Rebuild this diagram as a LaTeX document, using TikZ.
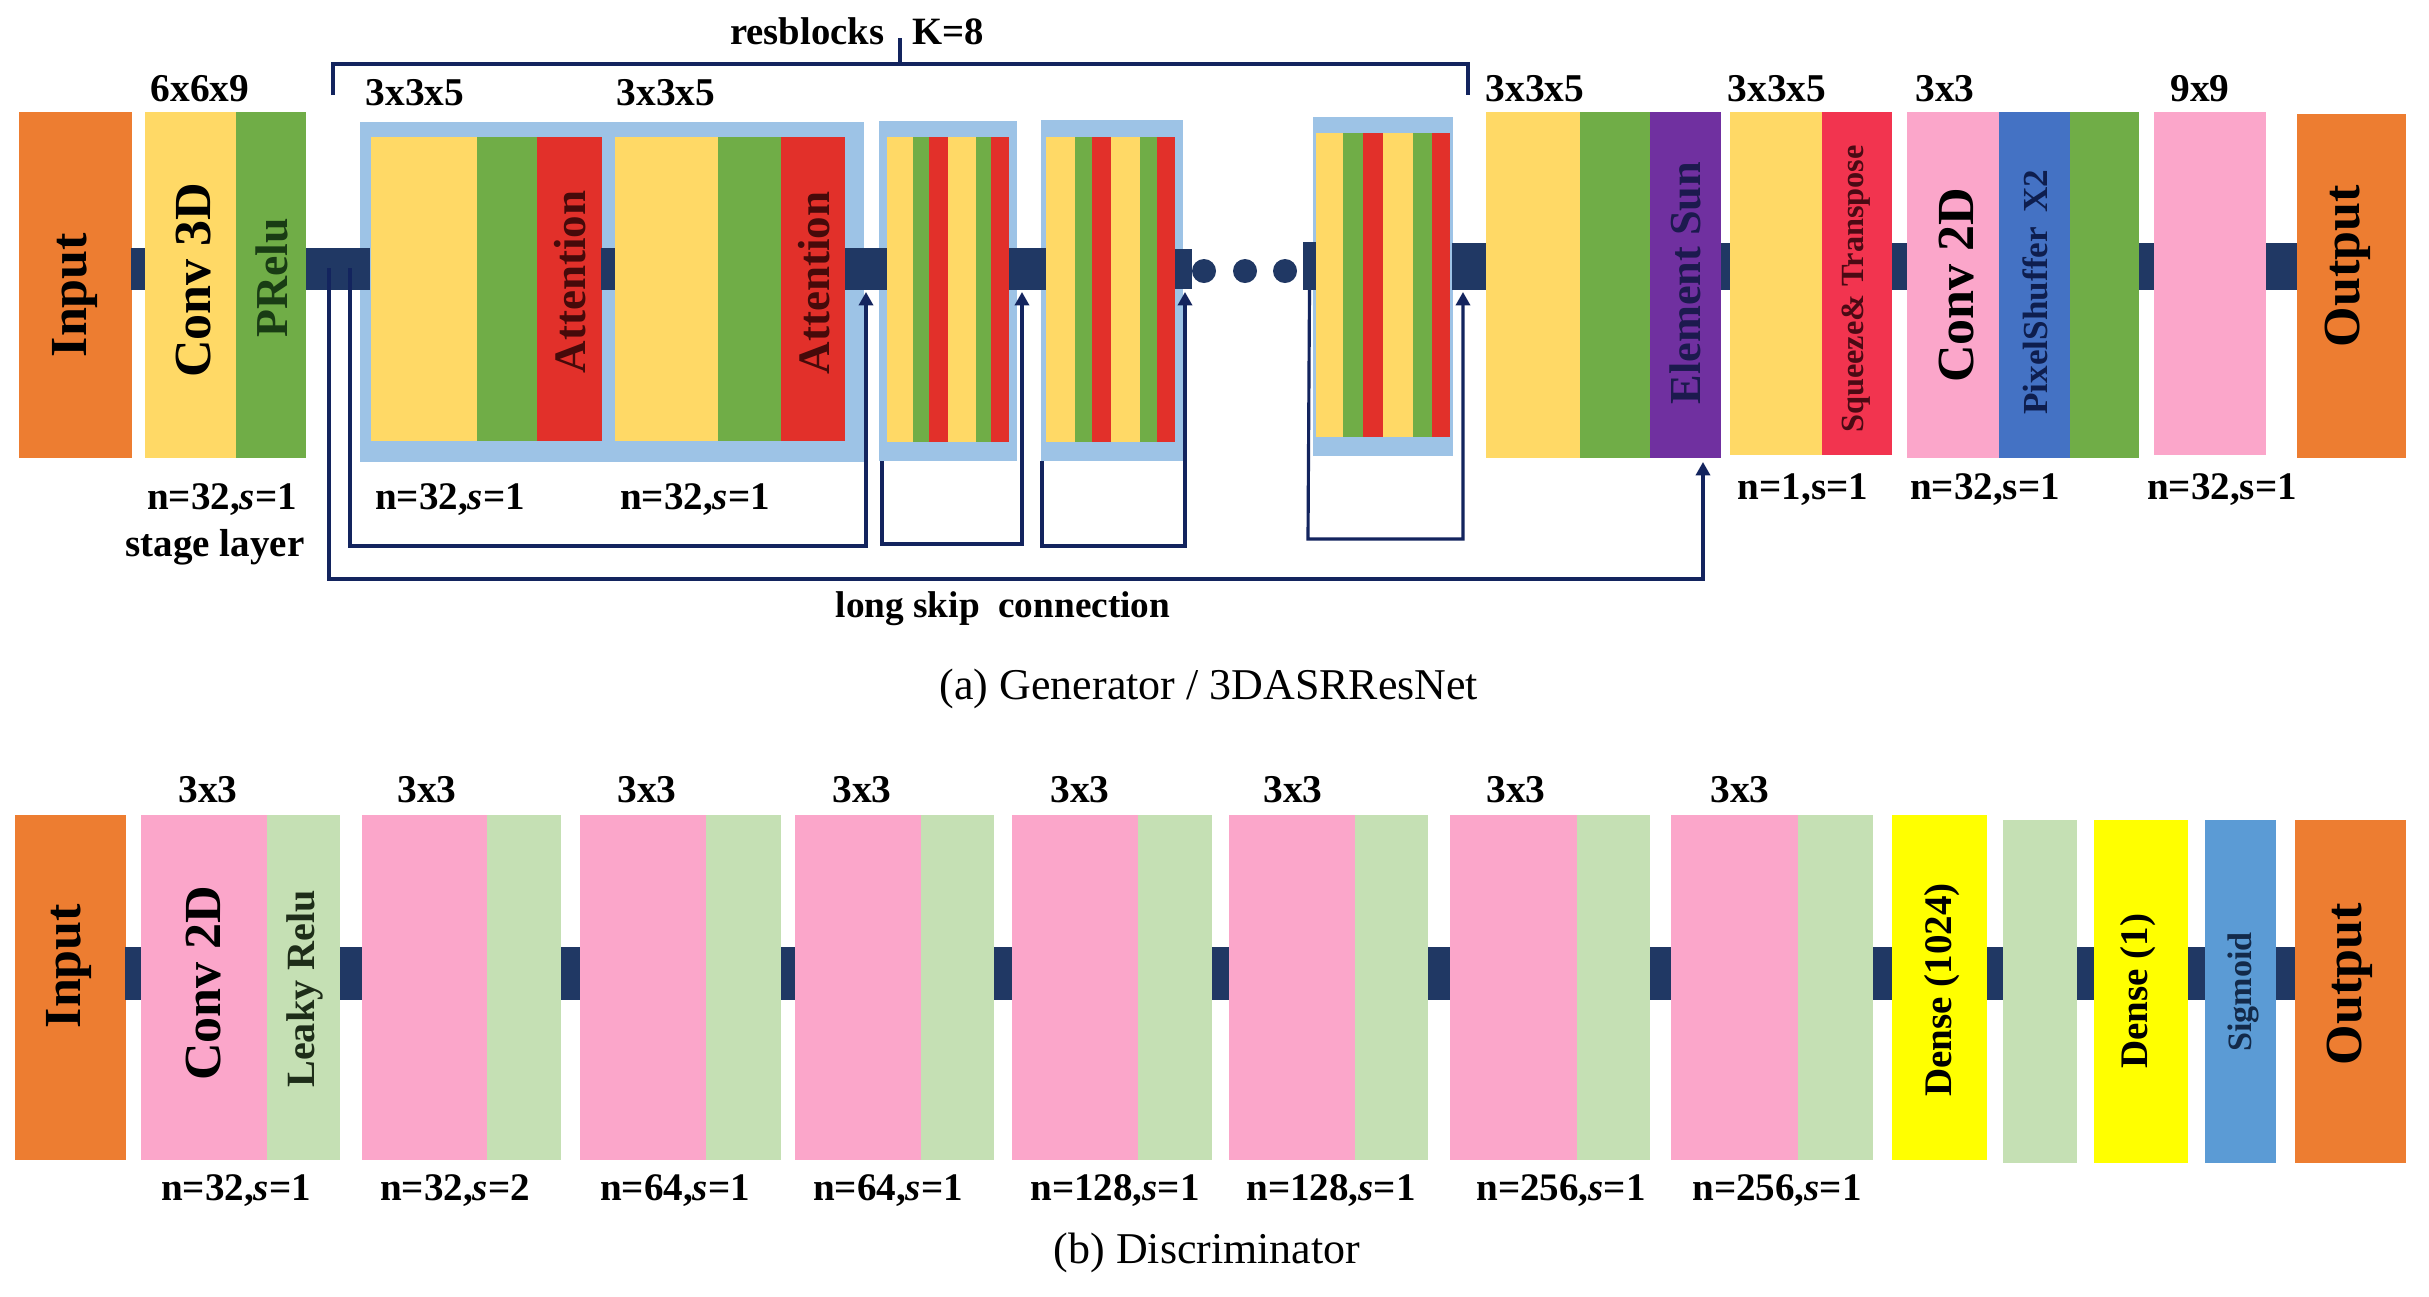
\documentclass[tikz,border=0pt]{standalone}
\usepackage{fontspec}
\setmainfont{Liberation Serif}
\usetikzlibrary{arrows.meta}
\definecolor{corange}{HTML}{ED7D31}
\definecolor{cgold}{HTML}{FFD966}
\definecolor{cgreen}{HTML}{70AD47}
\definecolor{cred}{HTML}{E2302A}
\definecolor{clblue}{HTML}{9DC3E6}
\definecolor{cpurple}{HTML}{7030A0}
\definecolor{csqred}{HTML}{F2344F}
\definecolor{cpink}{HTML}{FBA6CA}
\definecolor{cpxblue}{HTML}{4472C4}
\definecolor{clgreen}{HTML}{C5E0B4}
\definecolor{cbyellow}{HTML}{FFFF00}
\definecolor{csigblue}{HTML}{5B9BD5}
\definecolor{cnavy}{HTML}{203864}
\definecolor{clinenavy}{HTML}{13245E}
\newcommand\fs[1]{\fontsize{#1}{#1}\selectfont\bfseries}
\newcommand\blk[6]{\node[blk,fill=#2,minimum width={(#5-#3)*0.01cm},minimum height={(#6-#4)*0.01cm}] (#1) at ({(#3+#5)/2},{(#4+#6)/2}) {};}
\begin{document}
\begin{tikzpicture}[x=0.01cm,y=-0.01cm,
  blk/.style={inner sep=0pt,outer sep=0pt,draw=none,rectangle},
  vlab/.style={rotate=90,inner sep=0pt},
  kl/.style={font=\fs{11.2},anchor=base,inner sep=0pt},
  nl/.style={font=\fs{11.1},anchor=base,inner sep=0pt},
  skipline/.style={draw=clinenavy,line width=0.9pt},
  skiparrow/.style={skipline,-{Triangle[length=3.8pt,width=4pt]}}]
\useasboundingbox (0,0) rectangle (2429,1296);
\fill[white] (0,0) rectangle (2429,1296);

% ================= GENERATOR =================
\blk{inT}{corange}{19}{112}{132}{458}
\blk{b01}{cnavy}{131}{248}{146}{290}
\blk{conv3}{cgold}{145}{112}{236}{458}
\blk{prelu}{cgreen}{236}{112}{306}{458}
% resblock outer backgrounds
\blk{rb1}{clblue}{360}{122}{864}{462}
\blk{rb2}{clblue}{879}{121}{1017}{461}
\blk{rb3}{clblue}{1041}{120}{1183}{461}
\blk{rb4}{clblue}{1313}{117}{1453}{456}
\blk{b02}{cnavy}{306}{248}{370}{290}
% resblock 1
\blk{y11}{cgold}{371}{137}{477}{441}
\blk{g11}{cgreen}{477}{137}{537}{441}
\blk{r11}{cred}{537}{137}{602}{441}
\blk{b03}{cnavy}{601}{248}{616}{290}
\blk{y12}{cgold}{615}{137}{718}{441}
\blk{g12}{cgreen}{718}{137}{781}{441}
\blk{r12}{cred}{781}{137}{845}{441}
\blk{b04}{cnavy}{845}{248}{887}{290}
% resblock 2
\blk{y21}{cgold}{887}{137}{913}{442}
\blk{g21}{cgreen}{913}{137}{929}{442}
\blk{r21}{cred}{929}{137}{948}{442}
\blk{y22}{cgold}{948}{137}{976}{442}
\blk{g22}{cgreen}{976}{137}{991}{442}
\blk{r22}{cred}{991}{137}{1009}{442}
\blk{b05}{cnavy}{1009}{248}{1046}{290}
% resblock 3
\blk{y31}{cgold}{1046}{137}{1075}{442}
\blk{g31}{cgreen}{1075}{137}{1092}{442}
\blk{r31}{cred}{1092}{137}{1111}{442}
\blk{y32}{cgold}{1111}{137}{1140}{442}
\blk{g32}{cgreen}{1140}{137}{1157}{442}
\blk{r32}{cred}{1157}{137}{1175}{442}
\blk{b06}{cnavy}{1175}{249}{1192}{289}
\node[circle,fill=cnavy,minimum size=24*0.01cm,inner sep=0pt] (d1) at (1204,271) {};
\node[circle,fill=cnavy,minimum size=24*0.01cm,inner sep=0pt] (d2) at (1245,271) {};
\node[circle,fill=cnavy,minimum size=24*0.01cm,inner sep=0pt] (d3) at (1285,271) {};
\blk{b07}{cnavy}{1303}{242}{1316}{290}
% resblock 4
\blk{y41}{cgold}{1316}{133}{1343}{437}
\blk{g41}{cgreen}{1343}{133}{1363}{437}
\blk{r41}{cred}{1363}{133}{1383}{437}
\blk{y42}{cgold}{1383}{133}{1413}{437}
\blk{g42}{cgreen}{1413}{133}{1432}{437}
\blk{r42}{cred}{1432}{133}{1450}{437}
\blk{b08}{cnavy}{1452}{243}{1487}{290}
% tail
\blk{y5}{cgold}{1486}{112}{1580}{458}
\blk{g5}{cgreen}{1580}{112}{1650}{458}
\blk{esum}{cpurple}{1650}{112}{1721}{458}
\blk{b09}{cnavy}{1721}{243}{1731}{290}
\blk{y6}{cgold}{1730}{112}{1822}{455}
\blk{sq}{csqred}{1822}{112}{1892}{455}
\blk{b10}{cnavy}{1892}{243}{1908}{290}
\blk{conv2}{cpink}{1907}{112}{1999}{458}
\blk{pxs}{cpxblue}{1999}{112}{2070}{458}
\blk{g7}{cgreen}{2070}{112}{2139}{458}
\blk{b11}{cnavy}{2139}{243}{2155}{290}
\blk{p8}{cpink}{2154}{112}{2266}{455}
\blk{b12}{cnavy}{2266}{243}{2298}{290}
\blk{outT}{corange}{2297}{114}{2406}{458}

% vertical labels (generator)
\node[vlab,font=\fs{14.8}] at (75,295) {Input};
\node[vlab,font=\fs{14.8}] at (194,280) {Conv 3D};
\node[vlab,font=\fs{13},text={rgb,255:red,25;green,60;blue,20}] at (272,278) {PRelu};
\node[vlab,font=\fs{12.8},text={rgb,255:red,70;green,10;blue,10}] at (570,282) {Attention};
\node[vlab,font=\fs{12.8},text={rgb,255:red,70;green,10;blue,10}] at (814,283) {Attention};
\node[vlab,font=\fs{12.6},text={rgb,255:red,28;green,26;blue,78}] at (1685,283) {Element Sun};
\node[vlab,font=\fs{9.2},text={rgb,255:red,74;green,10;blue,20}] at (1856,289) {Squeeze\& Transpose};
\node[vlab,font=\fs{14.8}] at (1957,285) {Conv 2D};
\node[vlab,font=\fs{10},text={rgb,255:red,14;green,30;blue,78}] at (2035,292) {PixelShuffer\, X2};
\node[vlab,font=\fs{14.8}] at (2348,266) {Output};

% bracket
\draw[skipline] (333,95) -- (333,64) -- (1468,64) -- (1468,95);
\draw[skipline] (900,38) -- (900,64);
\node[font=\fs{11},anchor=base east,inner sep=0pt] (rbl) at (885,44) {resblocks};
\node[font=\fs{11},anchor=base west,inner sep=0pt] (rbk) at (912,44) {K=8};

% skip connections
\coordinate (s0) at (329,268);
\coordinate (s1) at (350,268);
\draw[skiparrow] (s0) -- (329,579) -- (1703,579) -- (1703,462);
\draw[skiparrow] (s1) -- (350,546) -- (866,546) -- (866,292);
\draw[skiparrow] (882,461) -- (882,544) -- (1022,544) -- (1022,292);
\draw[skiparrow] (1042,461) -- (1042,546) -- (1185,546) -- (1185,292);
\draw[skiparrow] (b07.south) -- (1308,539) -- (1463,539) -- (1463,292);

% kernel labels (generator)
\node[kl] at (200,101) {6x6x9};
\node[kl] at (415,105) {3x3x5};
\node[kl] at (666,105) {3x3x5};
\node[kl] at (1535,101) {3x3x5};
\node[kl] at (1777,101) {3x3x5};
\node[kl] at (1945,101) {3x3};
\node[kl] at (2200,101) {9x9};
% n labels (generator)
\node[nl] at (222,509) {n=32,\textit{s}=1};
\node[nl] at (450,509) {n=32,\textit{s}=1};
\node[nl] at (695,509) {n=32,\textit{s}=1};
\node[nl] at (1803,499) {n=1,s=1};
\node[nl] at (1985,499) {n=32,s=1};
\node[nl] at (2222,499) {n=32,s=1};
\node[nl] at (215,556) {stage layer};
\node[font=\fs{10.6},anchor=base,inner sep=0pt] at (1003,617) {long skip\ \ connection};
\node[font=\fontsize{12.5}{12.5}\selectfont,anchor=base,inner sep=0pt] at (1209,699) {(a) Generator / 3DASRResNet};

% ================= DISCRIMINATOR =================
\blk{inB}{corange}{15}{815}{126}{1160}
\blk{c01}{cnavy}{125}{947}{142}{1000}
\blk{dp1}{cpink}{141}{815}{267}{1160}
\blk{dg1}{clgreen}{267}{815}{340}{1160}
\blk{c02}{cnavy}{340}{947}{362}{1000}
\blk{dp2}{cpink}{362}{815}{487}{1160}
\blk{dg2}{clgreen}{487}{815}{561}{1160}
\blk{c03}{cnavy}{561}{947}{580}{1000}
\blk{dp3}{cpink}{580}{815}{706}{1160}
\blk{dg3}{clgreen}{706}{815}{781}{1160}
\blk{c04}{cnavy}{781}{947}{795}{1000}
\blk{dp4}{cpink}{795}{815}{921}{1160}
\blk{dg4}{clgreen}{921}{815}{994}{1160}
\blk{c05}{cnavy}{994}{947}{1012}{1000}
\blk{dp5}{cpink}{1012}{815}{1138}{1160}
\blk{dg5}{clgreen}{1138}{815}{1212}{1160}
\blk{c06}{cnavy}{1212}{947}{1229}{1000}
\blk{dp6}{cpink}{1229}{815}{1355}{1160}
\blk{dg6}{clgreen}{1355}{815}{1428}{1160}
\blk{c07}{cnavy}{1428}{947}{1450}{1000}
\blk{dp7}{cpink}{1450}{815}{1577}{1160}
\blk{dg7}{clgreen}{1577}{815}{1650}{1160}
\blk{c08}{cnavy}{1650}{947}{1671}{1000}
\blk{dp8}{cpink}{1671}{815}{1798}{1160}
\blk{dg8}{clgreen}{1798}{815}{1873}{1160}
\blk{c09}{cnavy}{1873}{947}{1892}{1000}
\blk{dn1}{cbyellow}{1892}{815}{1987}{1160}
\blk{c10}{cnavy}{1987}{947}{2003}{1000}
\blk{dg9}{clgreen}{2003}{820}{2077}{1163}
\blk{c11}{cnavy}{2077}{947}{2094}{1000}
\blk{dn2}{cbyellow}{2094}{820}{2188}{1163}
\blk{c12}{cnavy}{2188}{947}{2205}{1000}
\blk{sig}{csigblue}{2205}{820}{2276}{1163}
\blk{c13}{cnavy}{2276}{947}{2295}{1000}
\blk{outB}{corange}{2295}{820}{2406}{1163}

\node[vlab,font=\fs{14.8}] at (69,966) {Input};
\node[vlab,font=\fs{14.8}] at (204,983) {Conv 2D};
\node[vlab,font=\fs{11.4},text={rgb,255:red,30;green,45;blue,25}] at (305,989) {Leaky Relu};
\node[vlab,font=\fs{11.1}] at (1942,990) {Dense (1024)};
\node[vlab,font=\fs{11.1}] at (2138,991) {Dense (1)};
\node[vlab,font=\fs{9.7},text={rgb,255:red,19;green,42;blue,74}] at (2243,992) {Sigmoid};
\node[vlab,font=\fs{14.8}] at (2350,984) {Output};

\foreach \x in {208,427,647,862,1080,1293,1516,1740}
  \node[kl] at (\x,802) {3x3};
\node[nl] at (236,1200) {n=32,\textit{s}=1};
\node[nl] at (455,1200) {n=32,\textit{s}=2};
\node[nl] at (675,1200) {n=64,\textit{s}=1};
\node[nl] at (888,1200) {n=64,\textit{s}=1};
\node[nl] at (1115,1200) {n=128,\textit{s}=1};
\node[nl] at (1331,1200) {n=128,\textit{s}=1};
\node[nl] at (1561,1200) {n=256,\textit{s}=1};
\node[nl] at (1777,1200) {n=256,\textit{s}=1};
\node[font=\fontsize{12.5}{12.5}\selectfont,anchor=base,inner sep=0pt] at (1207,1263) {(b) Discriminator};
\end{tikzpicture}
\end{document}
